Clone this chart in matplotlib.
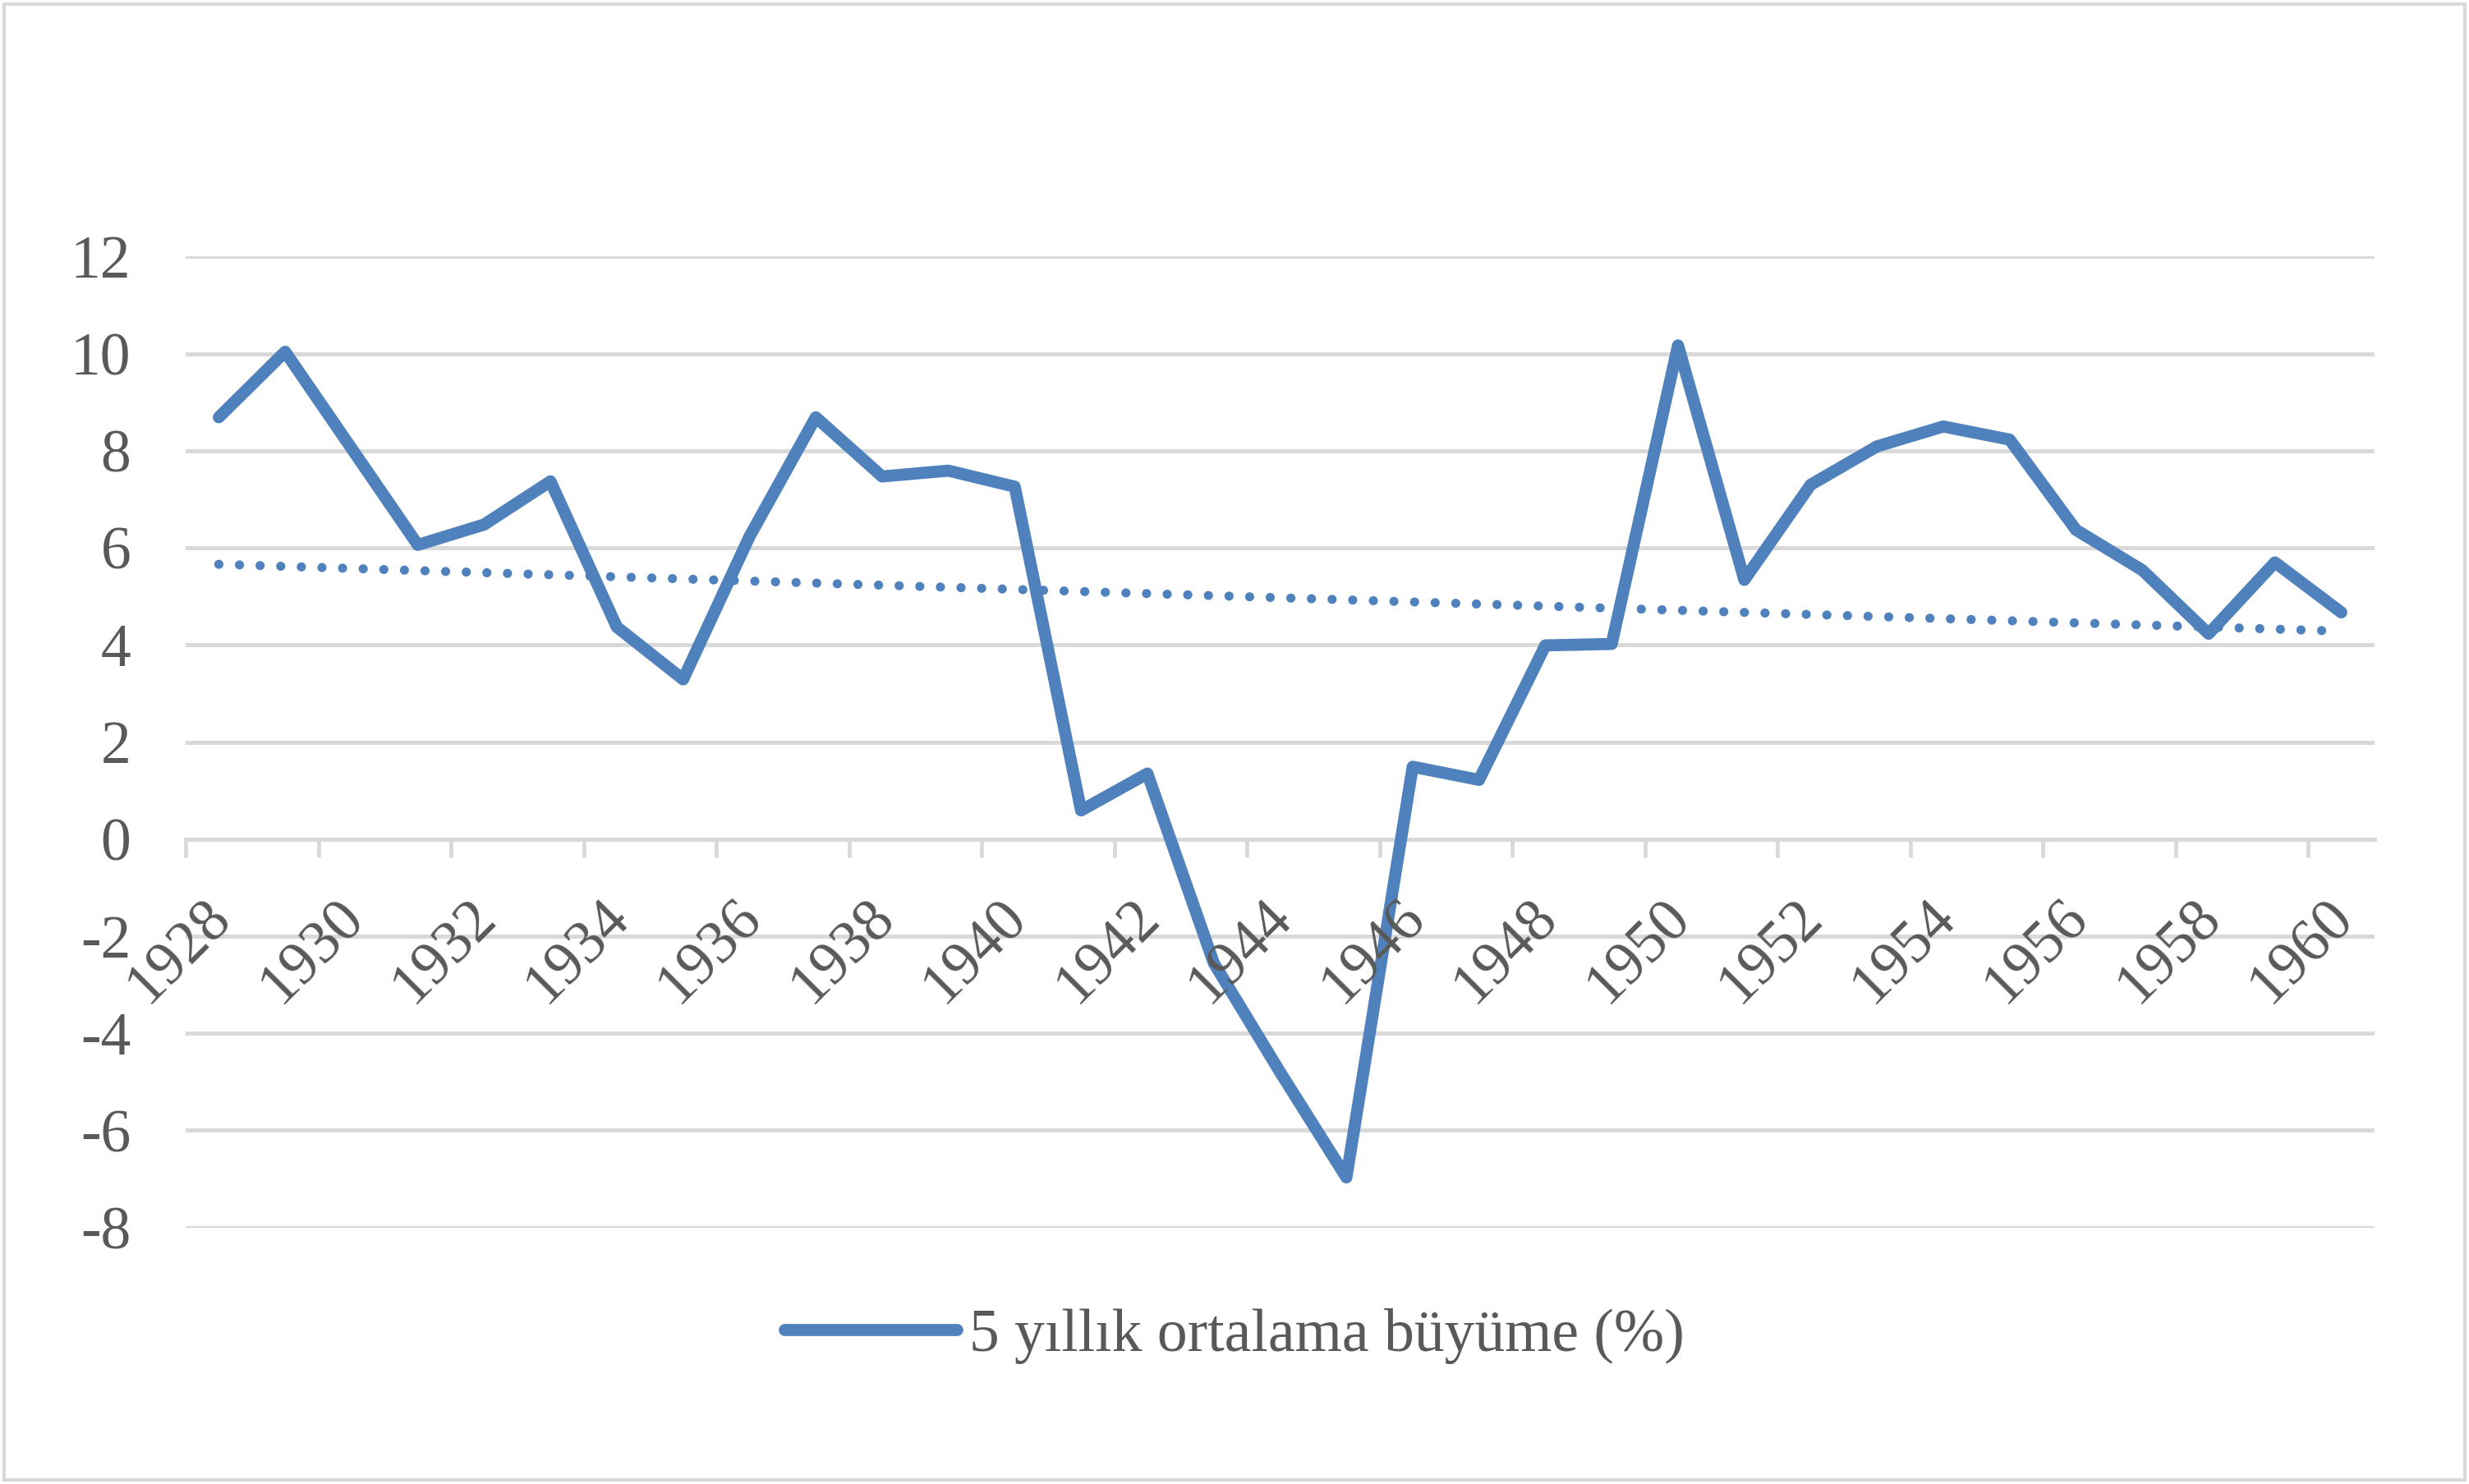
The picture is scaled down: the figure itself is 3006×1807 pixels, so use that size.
import numpy as np
import matplotlib
matplotlib.use("Agg")
from matplotlib import pyplot as plt
from matplotlib import transforms
from matplotlib.patches import Rectangle

plt.rcParams['font.family'] = ['Liberation Serif', 'DejaVu Serif']

years = [1928, 1929, 1930, 1931, 1932, 1933, 1934, 1935, 1936, 1937, 1938,
         1939, 1940, 1941, 1942, 1943, 1944, 1945, 1946, 1947, 1948, 1949,
         1950, 1951, 1952, 1953, 1954, 1955, 1956, 1957, 1958, 1959, 1960]
growth = [8.69, 10.04, 8.05, 6.06, 6.48, 7.37, 4.37, 3.29, 6.23, 8.69, 7.47,
          7.59, 7.26, 0.59, 1.35, -2.55, -4.80, -6.97, 1.49, 1.22, 3.99, 4.02,
          10.17, 5.34, 7.30, 8.09, 8.50, 8.23, 6.37, 5.54, 4.23, 5.70, 4.67]
y_ticks = [-8, -6, -4, -2, 0, 2, 4, 6, 8, 10, 12]
series_label = "5 yıllık ortalama büyüme (%)"

blue = '#4F81BD'
grey_text = '#595959'
grey_line = '#D9D9D9'
fs = 26.5

fig = plt.figure(figsize=(15.03, 9.035), dpi=200)
ax = fig.add_axes([0.0752, 0.1729, 0.8865, 0.6542])

idx = np.arange(len(years))
line, = ax.plot(idx, growth, color=blue, lw=5.3, solid_capstyle='round',
                solid_joinstyle='round', label=series_label, zorder=2)

# excel style linear trendline
k, b = np.polyfit(idx, growth, 1)
ax.plot(idx, k * idx + b, color=blue, lw=4.0, ls=(0, (0.01, 2.25)),
        dash_capstyle='round', label='_nolegend_', zorder=2)

ax.set_xlim(-0.5, len(years) - 0.5)
ax.set_ylim(-8, 12)
ax.set_yticks(y_ticks)
ax.set_yticklabels([str(v) for v in y_ticks])
ax.yaxis.grid(True, color=grey_line, lw=1.8)
ax.tick_params(axis='y', length=0, pad=24, labelsize=fs, labelcolor=grey_text)

# tick marks on category boundaries, labels on every second category
ax.set_xticks(np.arange(-0.5, len(years) - 1, 2))
ax.set_xticklabels([])
ax.set_xticks(idx[::2], minor=True)
ax.set_xticklabels([str(y) for y in years[::2]], minor=True)
ax.tick_params(axis='x', which='major', length=8, width=1.7, color=grey_line,
               direction='out')
ax.tick_params(axis='x', which='minor', length=0, pad=22, labelsize=fs,
               labelcolor=grey_text)

for s in ['top', 'right', 'left']:
    ax.spines[s].set_visible(False)
ax.spines['bottom'].set_position(('data', 0))
ax.spines['bottom'].set_color(grey_line)
ax.spines['bottom'].set_linewidth(1.8)
ax.spines['bottom'].set_zorder(1)

ax.yaxis.set_zorder(0.5)
ax.xaxis.set_zorder(3)

offset = transforms.ScaledTranslation(-7 / 72, 0, fig.dpi_scale_trans)
for lab in ax.get_xticklabels(minor=True):
    lab.set_rotation(45)
    lab.set_ha('right')
    lab.set_va('top')
    lab.set_rotation_mode('anchor')
    lab.set_transform(lab.get_transform() + offset)

leg = fig.legend(handles=[line], loc='center', bbox_to_anchor=(0.5, 0.0996),
                 frameon=False, fontsize=fs, handlelength=2.85,
                 handletextpad=0.2)
for t in leg.get_texts():
    t.set_color(grey_text)

fig.add_artist(Rectangle((0.0017, 0.0028), 0.9966, 0.9944,
                         transform=fig.transFigure, fill=False,
                         ec=grey_line, lw=1.5))

fig.savefig('out.png', dpi=200, facecolor='white')
